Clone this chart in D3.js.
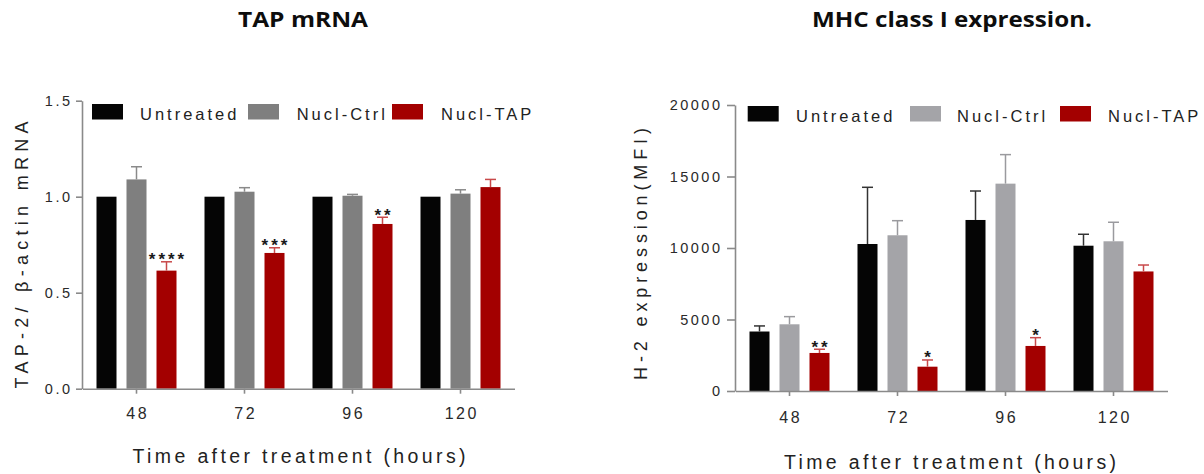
<!DOCTYPE html>
<html>
<head>
<meta charset="UTF-8">
<title></title>
<script src="https://cdn.jsdelivr.net/npm/d3@7"></script>
<style>
body { margin: 0; background: #fff; }
text { font-family: "Liberation Sans", Arial, sans-serif; }
</style>
</head>
<body>
<svg width="1204" height="474"></svg>
<script>
var times = ["48", "72", "96", "120"];
var groups = ["Untreated", "Nucl-Ctrl", "Nucl-TAP"];

// TAP-2 / beta-actin mRNA
var tapUntreated = [1.0, 1.0, 1.0, 1.0];
var tapUntreatedErr = [0, 0, 0, 0];
var tapCtrl = [1.09, 1.026, 1.005, 1.016];
var tapCtrlErr = [0.066, 0.021, 0.007, 0.02];
var tapNucl = [0.615, 0.707, 0.858, 1.05];
var tapNuclErr = [0.046, 0.027, 0.035, 0.04];
var tapStars = ["****", "***", "**", ""];
var tapTicks = [0, 0.5, 1.0, 1.5];

// H-2 expression (MFI)
var mhcUntreated = [4160, 10280, 11960, 10160];
var mhcUntreatedErr = [390, 3965, 2025, 800];
var mhcCtrl = [4665, 10890, 14500, 10470];
var mhcCtrlErr = [535, 1020, 2030, 1330];
var mhcNucl = [2660, 1700, 3150, 8360];
var mhcNuclErr = [260, 470, 580, 450];
var mhcStars = ["**", "*", "*", ""];
var mhcTicks = [0, 5000, 10000, 15000, 20000];

var svg = d3.select("svg");

function panel(o) {
    var g = svg.append("g");
    var x = d3.scaleBand().domain(times).range([o.x0, o.x1]);
    var off = d3.scalePoint().domain(groups).range([-30, 30]);
    var y = d3.scaleLinear().domain([0, o.max]).range([o.y0, o.y1]);
    var barW = 20;

    // bars + error bars
    o.values.forEach(function (vals, si) {
        var errs = o.errors[si];
        var cx = function (d, i) { return x(times[i]) + x.bandwidth() / 2 + off(groups[si]); };
        g.selectAll(".bar" + si)
            .data(vals)
            .enter()
            .append("rect")
            .attr("x", function (d, i) { return cx(d, i) - barW / 2; })
            .attr("y", function (d) { return y(d); })
            .attr("width", barW)
            .attr("height", function (d) { return y(0) - y(d); })
            .attr("fill", o.colors[si]);
        vals.forEach(function (d, i) {
            if (!errs[i]) return;
            var c = cx(d, i);
            g.append("line")
                .attr("x1", c).attr("x2", c)
                .attr("y1", y(d)).attr("y2", y(d + errs[i]))
                .attr("stroke", o.errColors[si]).attr("stroke-width", 1.5);
            g.append("line")
                .attr("x1", c - 5.5).attr("x2", c + 5.5)
                .attr("y1", y(d + errs[i])).attr("y2", y(d + errs[i]))
                .attr("stroke", o.errColors[si]).attr("stroke-width", 1.5);
        });
    });

    // significance stars over the last group
    var last = groups.length - 1;
    g.selectAll(".star")
        .data(o.stars)
        .enter()
        .append("text")
        .attr("x", function (d, i) { return x(times[i]) + x.bandwidth() / 2 + off(groups[last]) + 1.5; })
        .attr("y", function (d, i) { return y(o.values[last][i] + o.errors[last][i]) + 3.5; })
        .attr("text-anchor", "middle")
        .style("font-size", "17px")
        .style("font-weight", "bold")
        .style("letter-spacing", "3px")
        .style("fill", "#1a1a1a")
        .text(function (d) { return d; });

    // axes
    var ya = g.append("g")
        .attr("transform", "translate(" + o.yAxisX + ",0)")
        .call(d3.axisLeft(y).tickValues(o.ticks).tickFormat(d3.format(o.fmt))
            .tickSize(o.yTick).tickSizeOuter(0).tickPadding(o.yPad));
    var xa = g.append("g")
        .attr("transform", "translate(0," + o.y0 + ")")
        .call(d3.axisBottom(x).tickSize(5).tickSizeOuter(0).tickPadding(o.xPad));
    [ya, xa].forEach(function (a) {
        a.selectAll("path, line").attr("stroke", "#8a8a8a").attr("stroke-width", 1.6);
        a.selectAll("text").style("fill", "#2a2a2a").style("letter-spacing", "2.5px");
    });
    ya.selectAll("text").style("font-size", "14.5px");
    xa.selectAll("text").style("font-size", "16px").attr("dx", 1.25);

    // titles
    svg.append("text")
        .attr("x", o.titleX).attr("y", 27)
        .attr("text-anchor", "middle")
        .attr("textLength", o.titleW).attr("lengthAdjust", "spacingAndGlyphs")
        .style("font-family", "'Open Sans', Lato, sans-serif")
        .style("font-weight", "bold").style("font-size", "21px").style("fill", "#0d0d0d")
        .text(o.title);

    svg.append("text")
        .attr("transform", "translate(" + o.ytX + "," + o.ytY + ") rotate(-90)")
        .attr("text-anchor", "middle")
        .attr("textLength", o.ytW).attr("lengthAdjust", "spacing")
        .style("font-size", "18px").style("fill", "#222")
        .text(o.ytitle);

    svg.append("text")
        .attr("x", o.xtX).attr("y", o.xtY)
        .attr("text-anchor", "middle")
        .attr("textLength", o.xtW).attr("lengthAdjust", "spacing")
        .style("font-size", "19.5px").style("fill", "#222")
        .text("Time after treatment (hours)");

    // legend
    groups.forEach(function (name, si) {
        g.append("rect")
            .attr("x", o.legX[si * 2]).attr("y", o.legY)
            .attr("width", 31).attr("height", 15.5)
            .attr("fill", o.colors[si]);
        g.append("text")
            .attr("x", o.legX[si * 2 + 1]).attr("y", o.legY + 15.8)
            .style("font-size", "16.5px").style("letter-spacing", "3px").style("fill", "#222")
            .text(name);
    });
}

panel({
    x0: 82.5, x1: 514.5, yAxisX: 82, y0: 388.7, y1: 100.7, max: 1.5,
    ticks: tapTicks, fmt: ".1f", yTick: 6, yPad: 3.5, xPad: 14,
    values: [tapUntreated, tapCtrl, tapNucl],
    errors: [tapUntreatedErr, tapCtrlErr, tapNuclErr],
    stars: tapStars,
    colors: ["#050505", "#7f7f7f", "#a30000"],
    errColors: ["#333", "#8a8a8a", "#c8494a"],
    title: "TAP mRNA", titleX: 303, titleW: 130,
    ytitle: "TAP-2/ \u03b2-actin mRNA", ytX: 27.5, ytY: 255, ytW: 267,
    xtX: 299, xtY: 463, xtW: 333,
    legX: [92, 140, 248, 296.7, 392, 441], legY: 104
});

panel({
    x0: 735.5, x1: 1167.5, yAxisX: 735, y0: 391, y1: 105, max: 20000,
    ticks: mhcTicks, fmt: "d", yTick: 8, yPad: 4.5, xPad: 15.5,
    values: [mhcUntreated, mhcCtrl, mhcNucl],
    errors: [mhcUntreatedErr, mhcCtrlErr, mhcNuclErr],
    stars: mhcStars,
    colors: ["#050505", "#a4a4a8", "#a30000"],
    errColors: ["#333", "#9a9a9e", "#c8494a"],
    title: "MHC class I expression.", titleX: 952, titleW: 280,
    ytitle: "H-2 expression(MFI)", ytX: 647, ytY: 254, ytW: 252,
    xtX: 950, xtY: 469, xtW: 332,
    legX: [747.7, 796, 910, 957, 1060, 1108], legY: 106
});
</script>
</body>
</html>
